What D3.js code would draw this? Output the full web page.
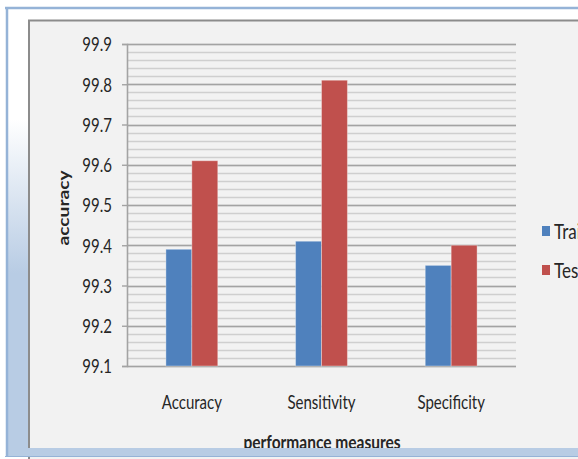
<!DOCTYPE html>
<html>
<head>
<meta charset="utf-8">
<script src="https://cdn.jsdelivr.net/npm/d3@7"></script>
<style>
  html, body { margin: 0; padding: 0; background: #ffffff; }
  svg { display: block; }
  text { font-family: Lato, "Open Sans", sans-serif; fill: #262626; }
</style>
</head>
<body>
<svg id="chart" width="578" height="459"></svg>
<script>
// Performance measures for the training and testing runs
const categories = ["Accuracy", "Sensitivity", "Specificity"];
const seriesNames = ["Training", "Testing"];
const trainingValues = [99.39, 99.41, 99.35];
const testingValues = [99.61, 99.81, 99.40];
const yTickLabels = ["99.1", "99.2", "99.3", "99.4", "99.5", "99.6", "99.7", "99.8", "99.9"];
const seriesColors = ["#4f81bd", "#c0504d"];

const W = 578, H = 459;
const plot = { left: 127, right: 516, top: 44, bottom: 366 };
const stretch = 1.28; // tall, narrow lettering

const svg = d3.select("#chart");

// window frame and chart area
const defs = svg.append("defs");
const grad = defs.append("linearGradient")
  .attr("id", "sideFade").attr("x1", 0).attr("y1", 0).attr("x2", 0).attr("y2", 1);
grad.append("stop").attr("offset", "0%").attr("stop-color", "#ffffff");
grad.append("stop").attr("offset", "25%").attr("stop-color", "#ffffff");
grad.append("stop").attr("offset", "60%").attr("stop-color", "#b8cce4");
grad.append("stop").attr("offset", "100%").attr("stop-color", "#b8cce4");

svg.append("rect").attr("x", 0).attr("y", 0).attr("width", W).attr("height", H).attr("fill", "#ffffff");
svg.append("rect").attr("x", 8).attr("y", 9).attr("width", 20).attr("height", 440).attr("fill", "url(#sideFade)");

svg.append("rect")
  .attr("x", 29).attr("y", 20.5).attr("width", W).attr("height", H)
  .attr("fill", "#f2f2f2").attr("stroke", "#8c8c8c").attr("stroke-width", 2);

// scales
const y = d3.scaleLinear().domain([99.1, 99.9]).range([plot.bottom, plot.top]);
const x0 = d3.scaleBand().domain(categories).range([plot.left, plot.right])
  .paddingInner(0.6).paddingOuter(0.3);
const x1 = d3.scaleBand().domain(seriesNames).range([0, x0.bandwidth()]);
const color = d3.scaleOrdinal().domain(seriesNames).range(seriesColors);

// gridlines: minor every 0.02, major every 0.1
const minorTicks = y.ticks(40);
const majorTicks = y.ticks(8);
svg.append("g").selectAll("line").data(minorTicks).join("line")
  .attr("x1", plot.left).attr("x2", plot.right)
  .attr("y1", d => Math.round(y(d)) + 0.5).attr("y2", d => Math.round(y(d)) + 0.5)
  .attr("stroke", "#cfcfcf").attr("stroke-width", 1.6);
svg.append("g").selectAll("line").data(majorTicks).join("line")
  .attr("x1", plot.left).attr("x2", plot.right)
  .attr("y1", d => Math.round(y(d)) + 0.5).attr("y2", d => Math.round(y(d)) + 0.5)
  .attr("stroke", "#a3a3a3").attr("stroke-width", 1.6);

// y axis
const yAxis = d3.axisLeft(y).tickValues(majorTicks).tickSize(5).tickPadding(10)
  .tickFormat((d, i) => yTickLabels[i]);
const yg = svg.append("g").attr("transform", `translate(${plot.left},0)`).call(yAxis);
yg.attr("font-family", null);
yg.select(".domain").attr("stroke", "#a3a3a3").attr("stroke-width", 1.6);
yg.selectAll(".tick line").attr("stroke", "#a3a3a3").attr("stroke-width", 1.4);
yg.selectAll(".tick text")
  .attr("fill", "#383838").attr("font-size", 15).attr("dy", "0.36em")
  .attr("x", 0).attr("y", 0)
  .attr("transform", `translate(-15,0) scale(1,${stretch})`);

// bars
const rows = categories.map((c, i) => ({ category: c, values: [trainingValues[i], testingValues[i]] }));
svg.append("g").selectAll("g").data(rows).join("g")
  .attr("transform", d => `translate(${x0(d.category)},0)`)
  .selectAll("rect")
  .data(d => d.values.map((v, j) => ({ series: seriesNames[j], value: v })))
  .join("rect")
  .attr("x", d => x1(d.series))
  .attr("y", d => y(d.value))
  .attr("width", x1.bandwidth())
  .attr("height", d => y(99.1) - y(d.value))
  .attr("fill", d => color(d.series))
  .attr("stroke", "rgba(255,255,255,0.35)").attr("stroke-width", 1);

// category labels
svg.append("g").selectAll("text").data(categories).join("text")
  .attr("transform", d => `translate(${x0(d) + x0.bandwidth() / 2},402) scale(1,${stretch})`)
  .attr("text-anchor", "middle").attr("dominant-baseline", "central")
  .attr("font-size", 15).attr("fill", "#383838")
  .text(d => d);

// axis titles
svg.append("text")
  .attr("transform", `translate(63,208) rotate(-90) scale(${stretch},1)`)
  .attr("text-anchor", "middle").attr("dominant-baseline", "central")
  .attr("font-size", 15).attr("font-weight", "bold").attr("fill", "#1a1a1a")
  .text("accuracy");

svg.append("text")
  .attr("transform", `translate(322,441) scale(1,${stretch})`)
  .attr("text-anchor", "middle").attr("dominant-baseline", "central")
  .attr("font-size", 15.5).attr("font-weight", "bold").attr("fill", "#1a1a1a")
  .text("performance measures");

// legend (runs past the right edge of the window)
const legend = svg.append("g").selectAll("g").data(seriesNames).join("g")
  .attr("transform", (d, i) => `translate(542,${231 + i * 39})`);
legend.append("rect")
  .attr("x", 0).attr("y", -5).attr("width", 8).attr("height", 10)
  .attr("fill", d => color(d));
legend.append("text")
  .attr("transform", `translate(12,0) scale(1,${stretch})`)
  .attr("dominant-baseline", "central")
  .attr("font-size", 17).attr("fill", "#383838")
  .text(d => d);

// window frame edges
svg.append("rect").attr("x", 8).attr("y", 448).attr("width", W).attr("height", 9).attr("fill", "#b8cce4");
svg.append("line").attr("x1", 5).attr("x2", W).attr("y1", 456.5).attr("y2", 456.5).attr("stroke", "#95b3d7").attr("stroke-width", 1);
svg.append("line").attr("x1", 5).attr("x2", W).attr("y1", 8).attr("y2", 8).attr("stroke", "#95b3d7").attr("stroke-width", 2.5);
svg.append("line").attr("x1", 7).attr("x2", 7).attr("y1", 7).attr("y2", 457).attr("stroke", "#95b3d7").attr("stroke-width", 2.5);
</script>
</body>
</html>
